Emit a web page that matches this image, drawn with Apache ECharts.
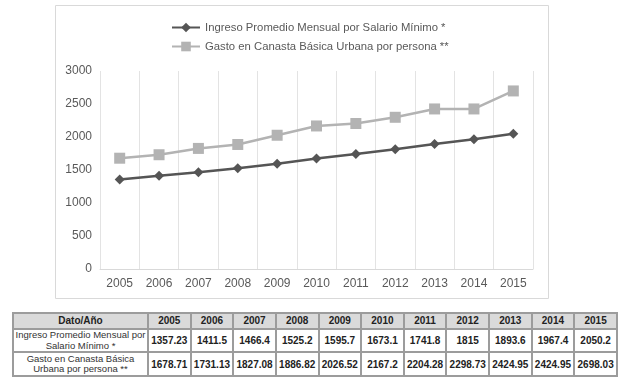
<!DOCTYPE html>
<html><head><meta charset="utf-8">
<script src="https://cdn.jsdelivr.net/npm/echarts@6/dist/echarts.min.js"></script>
<style>
html,body{margin:0;padding:0;background:#fff;width:624px;height:385px;overflow:hidden;}
#chart{position:absolute;left:0;top:0;width:624px;height:305px;}
#tbl{position:absolute;left:12px;top:312px;width:606px;border-collapse:separate;border-spacing:2px;background:#9c9c9c;font-family:"Liberation Sans",Arial,sans-serif;font-size:10px;color:#222;table-layout:fixed;}
#tbl td{text-align:center;padding:0;background:#fff;font-weight:bold;white-space:nowrap;overflow:hidden;}
#tbl tr.h td{background:#dadada;height:14px;line-height:14px;}
#tbl td.lbl{font-weight:normal;font-size:9.5px;line-height:10.5px;color:#333;}
#tbl tr.r1 td{height:21px;}
#tbl tr.r2 td{height:22px;}
</style>
</head><body>
<div id="chart"></div>
<table id="tbl"></table>
<script>
const years = ['2005','2006','2007','2008','2009','2010','2011','2012','2013','2014','2015'];
const ingreso = [1357.23,1411.5,1466.4,1525.2,1595.7,1673.1,1741.8,1815,1893.6,1967.4,2050.2];
const gasto = [1678.71,1731.13,1827.08,1886.82,2026.52,2167.2,2204.28,2298.73,2424.95,2424.95,2698.03];
const seriesNames = ['Ingreso Promedio Mensual por Salario Mínimo *','Gasto en Canasta Básica Urbana por persona **'];
const tableRowLabels = ['Ingreso Promedio Mensual por<br>Salario Mínimo *','Gasto en Canasta Básica<br>Urbana por persona **'];
const tableHeader = 'Dato/Año';
const yTicks = [0,500,1000,1500,2000,2500,3000];

// table
(function(){
  const t = document.getElementById('tbl');
  let html = '<colgroup><col style="width:133px">' + years.map(()=>'<col>').join('') + '</colgroup>';
  html += '<tr class="h"><td>'+tableHeader+'</td>'+years.map(y=>'<td>'+y+'</td>').join('')+'</tr>';
  html += '<tr class="r1"><td class="lbl">'+tableRowLabels[0]+'</td>'+ingreso.map(v=>'<td>'+v+'</td>').join('')+'</tr>';
  html += '<tr class="r2"><td class="lbl">'+tableRowLabels[1]+'</td>'+gasto.map(v=>'<td>'+v+'</td>').join('')+'</tr>';
  t.innerHTML = html;
})();

const chart = echarts.init(document.getElementById('chart'), null, {renderer:'canvas'});
const font = '"Liberation Sans", Arial, sans-serif';
chart.setOption({
  animation:false,
  textStyle:{fontFamily:font},
  graphic:[{type:'rect',shape:{x:55.5,y:5.5,width:493,height:293},style:{fill:'none',stroke:'#d9d9d9',lineWidth:1},z:-1}],
  legend:{
    orient:'vertical', left:166, top:17, itemWidth:28, itemHeight:12, itemGap:8,
    textStyle:{color:'#595959',fontSize:11.3,fontFamily:font},
    data:seriesNames
  },
  grid:{left:100,right:91,top:71,bottom:36},
  xAxis:{
    type:'category', data:years, boundaryGap:true,
    axisLine:{lineStyle:{color:'#d9d9d9'}}, axisTick:{show:false},
    axisLabel:{color:'#595959',fontSize:12,margin:9,interval:0},
    splitLine:{show:true,lineStyle:{color:'#e3e3e3'}}
  },
  yAxis:{
    type:'value', min:yTicks[0], max:yTicks[yTicks.length-1], interval:500,
    axisLine:{show:false}, axisTick:{show:false},
    axisLabel:{color:'#595959',fontSize:12,margin:8,formatter:v=>String(v)},
    splitLine:{show:false}
  },
  series:[
    {name:seriesNames[0], type:'line', data:ingreso, symbol:'diamond', symbolSize:10,
     lineStyle:{color:'#555555',width:2.5}, itemStyle:{color:'#555555'}},
    {name:seriesNames[1], type:'line', data:gasto, symbol:'rect', symbolSize:11,
     lineStyle:{color:'#b3b3b3',width:2.5}, itemStyle:{color:'#b3b3b3'}}
  ]
});
</script>
</body></html>
